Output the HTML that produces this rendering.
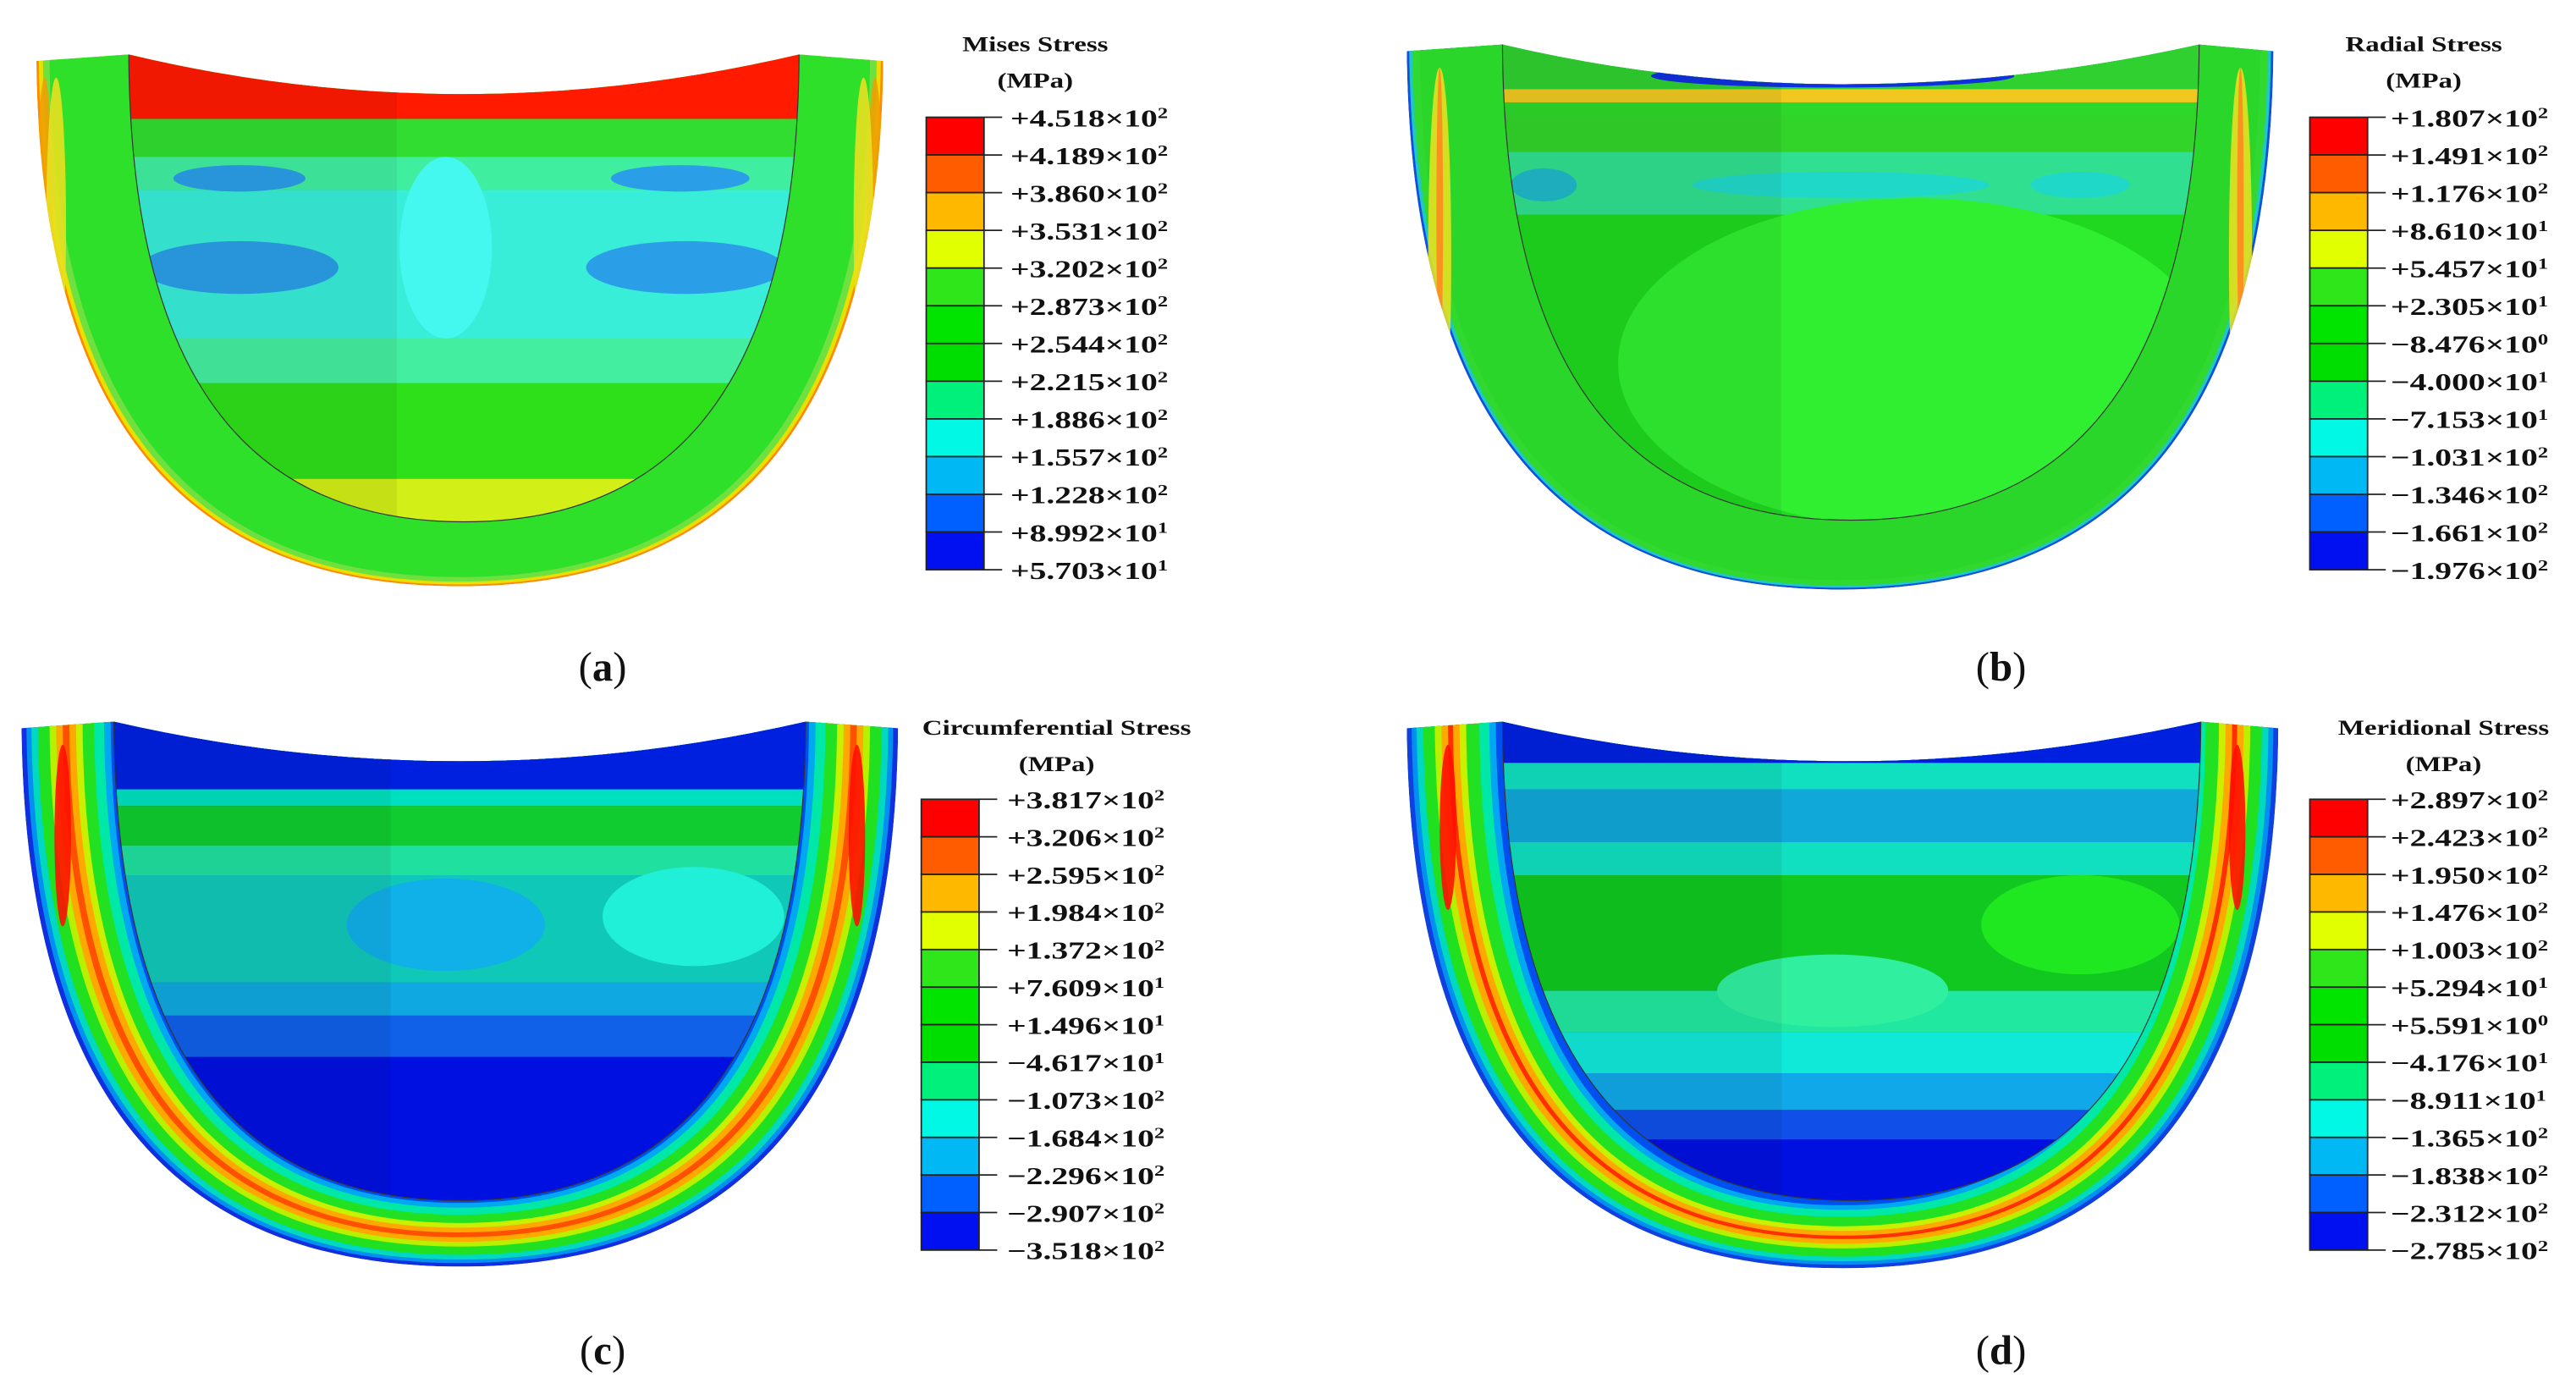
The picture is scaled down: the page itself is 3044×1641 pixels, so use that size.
<!DOCTYPE html>
<html><head><meta charset="utf-8"><style>
html,body{margin:0;padding:0;background:#fff}
svg{display:block}
text{font-family:"Liberation Serif",serif;fill:#111}
</style></head><body>
<svg id="fig" width="3044" height="1641" viewBox="0 0 3044 1641" xmlns="http://www.w3.org/2000/svg">
<g transform="scale(1.951)">
<g id="shapes"></g>
<g id="bars"></g>
</g>
</svg>
<script>
// ---- legend data ----
const titlesA = ["Mises Stress","Radial Stress","Circumferential Stress","Meridional Stress"];
const labelsA = ["+4.518×10|2","+4.189×10|2","+3.860×10|2","+3.531×10|2","+3.202×10|2","+2.873×10|2","+2.544×10|2","+2.215×10|2","+1.886×10|2","+1.557×10|2","+1.228×10|2","+8.992×10|1","+5.703×10|1"];
const labelsB = ["+1.807×10|2","+1.491×10|2","+1.176×10|2","+8.610×10|1","+5.457×10|1","+2.305×10|1","−8.476×10|0","−4.000×10|1","−7.153×10|1","−1.031×10|2","−1.346×10|2","−1.661×10|2","−1.976×10|2"];
const labelsC = ["+3.817×10|2","+3.206×10|2","+2.595×10|2","+1.984×10|2","+1.372×10|2","+7.609×10|1","+1.496×10|1","−4.617×10|1","−1.073×10|2","−1.684×10|2","−2.296×10|2","−2.907×10|2","−3.518×10|2"];
const labelsD = ["+2.897×10|2","+2.423×10|2","+1.950×10|2","+1.476×10|2","+1.003×10|2","+5.294×10|1","+5.591×10|0","−4.176×10|1","−8.911×10|1","−1.365×10|2","−1.838×10|2","−2.312×10|2","−2.785×10|2"];
const bandColors = ["#ff0000","#ff5c00","#ffb800","#e2ff00","#2ee61a","#00e400","#00dd00","#00f07c","#00f8e4","#00b8f4","#0060ff","#0010f0"];
const panelLetters = ["a","b","c","d"];

const NS="http://www.w3.org/2000/svg";
function mk(tag,attrs,parent){const e=document.createElementNS(NS,tag);for(const k in attrs)e.setAttribute(k,attrs[k]);parent.appendChild(e);return e;}

// ---- colorbars (display units) ----
const barsG=document.getElementById('bars');
const barPos=[{x:561,y:71,h:274,lx:612,tx:627,ty:31},{x:1399,y:71,h:274,lx:1448,tx:1468,ty:31},{x:558,y:484,h:273,lx:610,tx:640,ty:445},{x:1399,y:484,h:273,lx:1448,tx:1480,ty:445}];
const allLabels=[labelsA,labelsB,labelsC,labelsD];
barPos.forEach((p,i)=>{
  const g=mk('g',{},barsG);
  
  
  const t1=mk('text',{'font-size':13,'font-weight':'bold','text-anchor':'middle',transform:`translate(${p.tx},${p.ty}) scale(1.3,1)`},g);
  t1.textContent=titlesA[i];
  
  
  const t2=mk('text',{'font-size':13,'font-weight':'bold','text-anchor':'middle',transform:`translate(${p.tx},${p.ty+22}) scale(1.3,1)`},g);
  t2.textContent="(MPa)";
  
  
  const n=bandColors.length, bh=p.h/n;
  bandColors.forEach((c,j)=>{
    const r=mk('rect',{x:p.x,y:p.y+j*bh,width:35,height:bh,fill:c,stroke:'#222','stroke-width':0.9},g);
    
    
  });
  allLabels[i].forEach((lab,j)=>{
    const y=p.y+j*bh;
    const tk=mk('line',{x1:p.x+35,x2:p.x+46,y1:y,y2:y,stroke:'#222','stroke-width':0.9},g);
    
    
    const [m,e]=lab.split('|');
    const t=mk('text',{'font-size':14.5,'font-weight':'bold',transform:`translate(${p.lx},${y+5.5}) scale(1.4,1)`},g);
    
    
    t.appendChild(document.createTextNode(m));
    const s=mk('tspan',{'font-size':9,dy:-5},t); s.textContent=e;
  });
});

// ---- panel labels ----
[[365,403],[1212,403],[365,817],[1212,817]].forEach((q,i)=>{
  const t=mk('text',{x:q[0],y:q[1]+9,'font-size':25,'text-anchor':'middle'},barsG);
  
  
  t.appendChild(document.createTextNode('('));
  const b=mk('tspan',{'font-weight':'bold'},t); b.textContent=panelLetters[i];
  t.appendChild(document.createTextNode(')'));
});

// ---- contour shapes ----
const shapes=document.getElementById('shapes');
function U(l,r,t,b){const cx=(l+r)/2;return `M${l},${t} C${l},${t+(b-t)*0.78} ${cx-(cx-l)*0.55},${b} ${cx},${b} C${cx+(r-cx)*0.55},${b} ${r},${t+(b-t)*0.78} ${r},${t} Z`;}
const panels=[
 {l:22,r:535,t:37,b:355,il:78,ir:484,ib:316,
  rings:[[0,'#ff8a00'],[1.5,'#e8e000'],[4,'#6ee040'],[8,'#2ee02a']],
  streaks:[['#f0a000',5,5,200],['#e8e020',12,6,180]],
  bands:[[20,72,'#ff1a00'],[72,95,'#30dd30'],[95,115,'#40eea0'],[115,205,'#38eed8'],[205,232,'#44eea0'],[232,290,'#2ee01a'],[290,330,'#d2f018']],
  blobs:[[145,162,60,16,'#2b9ee8'],[415,162,60,16,'#2b9ee8'],[145,108,40,8,'#2b9ee8'],[412,108,42,8,'#2b9ee8'],[270,150,28,55,'#44f8f0']]},
 {l:852,r:1377,t:31,b:357,il:910,ir:1332,ib:315,
  rings:[[0,'#1050e0'],[1.5,'#20c8c0'],[3.5,'#30d830'],[8,'#2ad62a']],
  streaks:[['#e6e020',20,7,230],['#ff8a20',20,2,180]],
  bands:[[20,54,'#30d030'],[54,62,'#f0c820'],[62,70,'#2ed82a'],[70,92,'#32d42a'],[92,130,'#30e090'],[130,360,'#1fd81f']],
  blobs:[[1110,46,110,7,'#1030e0'],[1115,112,90,8,'#20d8c8'],[1260,112,30,8,'#20d8c8'],[935,112,20,10,'#20b8c8'],[1160,220,180,100,'#30ee30']]},
 {l:13,r:544,t:441,b:767,il:69,ir:488,ib:727,
  rings:[[0,'#1030e0'],[3,'#0090f0'],[6,'#00d8c0'],[10,'#20e020'],[17,'#b8f000'],[21,'#ffa800'],[25,'#ff5000'],[29,'#ffa800'],[33,'#c8f000'],[37,'#22e022'],[44,'#00e8a8'],[50,'#00a8f0'],[54,'#0050f0']],
  streaks:[['#ff1000',25,5,110]],
  bands:[[420,478,'#0020e0'],[478,488,'#00e0c0'],[488,512,'#10cc30'],[512,530,'#20e0a0'],[530,595,'#10c8b8'],[595,615,'#10a8e0'],[615,640,'#1060e8'],[640,760,'#0010e0']],
  blobs:[[270,560,60,28,'#10b0e8'],[420,555,55,30,'#20f0d8']]},
 {l:852,r:1380,t:441,b:768,il:910,ir:1333,ib:727,
  rings:[[0,'#1040e0'],[3,'#0090f0'],[6,'#00d8c0'],[10,'#20e020'],[17,'#b8f000'],[21,'#ffa800'],[25,'#ff3000'],[28,'#ffa800'],[32,'#c8f000'],[36,'#22e022'],[44,'#00e8a8'],[50,'#00a8f0'],[54,'#0050f0']],
  streaks:[['#ff1000',25,5,100]],
  bands:[[420,462,'#0020e0'],[462,478,'#10e0c0'],[478,510,'#10a8d8'],[510,530,'#10e0c0'],[530,600,'#10c820'],[600,625,'#20e8a0'],[625,650,'#10e8d8'],[650,672,'#10a8e8'],[672,690,'#1050e8'],[690,760,'#0010e0']],
  blobs:[[1110,600,70,22,'#30f0a0'],[1260,560,60,30,'#20e820']]}
];
let cid=0;
panels.forEach((P,i)=>{
  const cx=(P.l+P.r)/2;
  const g=mk('g',{},shapes);
  
  
  const clipTop=`M${P.l},${P.t} L${P.il},${P.t-4} Q${cx},${P.t+44} ${P.ir},${P.t-4} L${P.r},${P.t} L${P.r},${P.b+10} L${P.l},${P.b+10} Z`;
  const id1='ct'+(cid++);
  const cp=mk('clipPath',{id:id1},g); mk('path',{d:clipTop},cp);
  const body=mk('g',{'clip-path':`url(#${id1})`},g);
  const outer=U(P.l,P.r,P.t-8,P.b);
  const idO='co'+(cid++);
  const cpO=mk('clipPath',{id:idO},g); mk('path',{d:outer},cpO);
  const ring=mk('g',{'clip-path':`url(#${idO})`},body);
  const k=(P.b-P.ib)/(P.il-P.l);
  P.rings.forEach(([d,c])=>{
    const p=mk('path',{d:U(P.l+d,P.r-d,P.t-8,P.b-d*k),fill:c},ring);
    
    
  });
  P.streaks.forEach(([c,dx,w,h])=>{
    [P.l+dx,P.r-dx].forEach(x=>{
      const e=mk('ellipse',{cx:x,cy:P.t+h/2+10,rx:w,ry:h/2,fill:c,opacity:0.9},ring);
      
      
    });
  });
  const bowl=U(P.il,P.ir,P.t-8,P.ib);
  const id2='cb'+(cid++);
  const cp2=mk('clipPath',{id:id2},g); mk('path',{d:bowl},cp2);
  const ig=mk('g',{'clip-path':`url(#${id2})`},body);
  P.bands.forEach(([y0,y1,c])=>{
    const r=mk('rect',{x:P.il-5,y:y0,width:P.ir-P.il+10,height:y1-y0,fill:c},ig);
    
    
  });
  P.blobs.forEach(([x,y,rx,ry,c])=>{
    const e=mk('ellipse',{cx:x,cy:y,rx:rx,ry:ry,fill:c},ig);
    
    
  });
  mk('rect',{x:P.il,y:P.t-10,width:(P.ir-P.il)*0.4,height:P.ib-P.t+20,fill:'#000',opacity:0.06},ig);
  mk('path',{d:bowl,fill:'none',stroke:'#333','stroke-width':0.6},body);
});
</script>
</body></html>
